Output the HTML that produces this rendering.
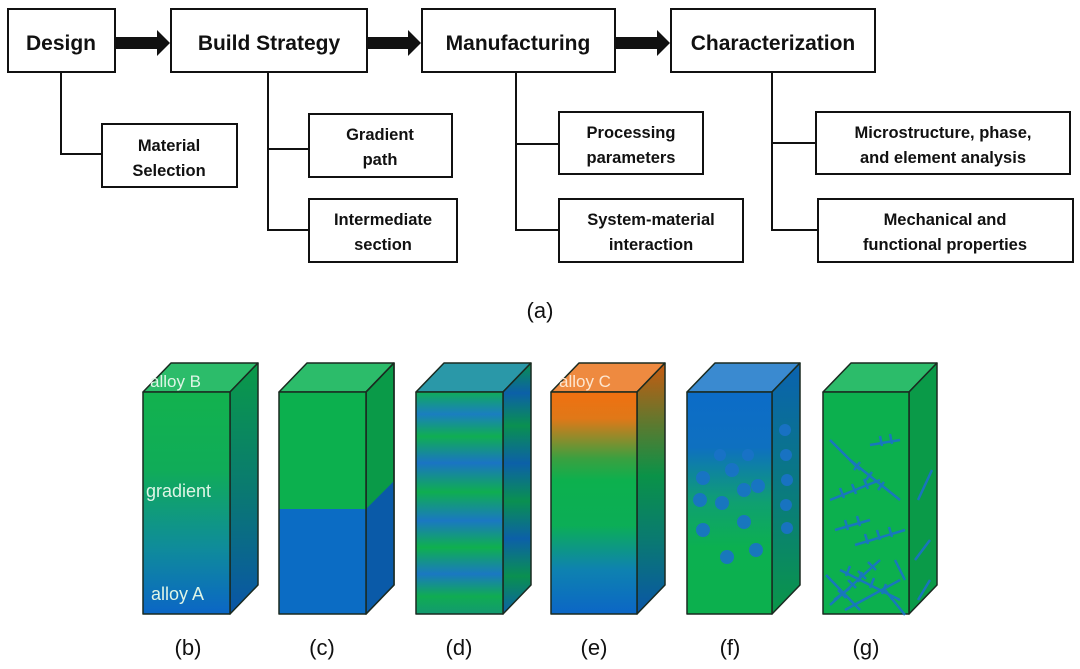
<!DOCTYPE html>
<html><head><meta charset="utf-8"><style>
body{margin:0;background:#fff;}
svg{display:block}
.b{font-family:"Liberation Sans",sans-serif;font-weight:bold;fill:#111;text-anchor:middle}
.l{font-family:"Liberation Sans",sans-serif;fill:#111;text-anchor:middle;font-size:22px}
.w{font-family:"Liberation Sans",sans-serif;fill:#dff5e6;font-size:17px}
</style></head><body>
<svg width="1080" height="669" viewBox="0 0 1080 669" xmlns="http://www.w3.org/2000/svg">
<defs>
<linearGradient id="gb" x1="0" y1="0" x2="0" y2="1"><stop offset="0" stop-color="#12b24e"/><stop offset="0.35" stop-color="#10ac58"/><stop offset="0.7" stop-color="#0f8c9a"/><stop offset="1" stop-color="#0b66c6"/></linearGradient>
<linearGradient id="gbs" x1="0" y1="0" x2="0" y2="1"><stop offset="0" stop-color="#0a9a48"/><stop offset="0.5" stop-color="#0a7a70"/><stop offset="1" stop-color="#0a55a8"/></linearGradient>
<linearGradient id="gd" x1="0" y1="0" x2="0" y2="1">
<stop offset="0" stop-color="#10ac5a"/><stop offset="0.1" stop-color="#1a7ec0"/><stop offset="0.2" stop-color="#10ae52"/><stop offset="0.32" stop-color="#1a74c4"/><stop offset="0.45" stop-color="#0fae50"/><stop offset="0.58" stop-color="#1a78c2"/><stop offset="0.7" stop-color="#0fb04e"/><stop offset="0.82" stop-color="#1a78c2"/><stop offset="0.92" stop-color="#10ac52"/><stop offset="1" stop-color="#129a70"/></linearGradient>
<linearGradient id="gds" x1="0" y1="0" x2="0" y2="1">
<stop offset="0" stop-color="#0a9050"/><stop offset="0.12" stop-color="#0c60a8"/><stop offset="0.25" stop-color="#0a9050"/><stop offset="0.4" stop-color="#0c60a8"/><stop offset="0.55" stop-color="#0a9050"/><stop offset="0.7" stop-color="#0c60a8"/><stop offset="0.85" stop-color="#0a9050"/><stop offset="1" stop-color="#0c60a8"/></linearGradient>
<linearGradient id="ge" x1="0" y1="0" x2="0" y2="1"><stop offset="0" stop-color="#f07010"/><stop offset="0.12" stop-color="#e07818"/><stop offset="0.3" stop-color="#3aa040"/><stop offset="0.4" stop-color="#0cb04e"/><stop offset="0.6" stop-color="#0cae56"/><stop offset="0.8" stop-color="#0e82b0"/><stop offset="1" stop-color="#0b66c6"/></linearGradient>
<linearGradient id="ges" x1="0" y1="0" x2="0" y2="1"><stop offset="0" stop-color="#c85a10"/><stop offset="0.25" stop-color="#5a7a30"/><stop offset="0.45" stop-color="#0a9248"/><stop offset="0.7" stop-color="#0a7a70"/><stop offset="1" stop-color="#0a55a8"/></linearGradient>
<linearGradient id="gf" x1="0" y1="0" x2="0" y2="1"><stop offset="0" stop-color="#0c6cc8"/><stop offset="0.25" stop-color="#0e70c0"/><stop offset="0.5" stop-color="#0fa070"/><stop offset="0.7" stop-color="#0cb050"/><stop offset="1" stop-color="#0cb04e"/></linearGradient>
<linearGradient id="gfs" x1="0" y1="0" x2="0" y2="1"><stop offset="0" stop-color="#0a62b0"/><stop offset="0.5" stop-color="#0a7a80"/><stop offset="1" stop-color="#0a9648"/></linearGradient>
</defs>
<g stroke="#111" stroke-width="2" fill="#fff">
<rect x="8" y="9" width="107" height="63"/>
<rect x="171" y="9" width="196" height="63"/>
<rect x="422" y="9" width="193" height="63"/>
<rect x="671" y="9" width="204" height="63"/>
<rect x="102" y="124" width="135" height="63"/>
<rect x="309" y="114" width="143" height="63"/>
<rect x="309" y="199" width="148" height="63"/>
<rect x="559" y="112" width="144" height="62"/>
<rect x="559" y="199" width="184" height="63"/>
<rect x="816" y="112" width="254" height="62"/>
<rect x="818" y="199" width="255" height="63"/>
<polyline fill="none" points="61,72 61,154 102,154"/>
<polyline fill="none" points="268,72 268,230 309,230"/>
<line x1="268" y1="149" x2="309" y2="149"/>
<polyline fill="none" points="516,72 516,230 559,230"/>
<line x1="516" y1="144" x2="559" y2="144"/>
<polyline fill="none" points="772,72 772,230 818,230"/>
<line x1="772" y1="143" x2="816" y2="143"/>
</g>
<g fill="#111">
<polygon points="115,37 157,37 157,30 170,43 157,56 157,49 115,49"/>
<polygon points="367,37 408,37 408,30 421,43 408,56 408,49 367,49"/>
<polygon points="615,37 657,37 657,30 670,43 657,56 657,49 615,49"/>
</g>
<g class="b" font-size="21">
<text x="61" y="50">Design</text>
<text x="269" y="50">Build Strategy</text>
<text x="518" y="50">Manufacturing</text>
<text x="773" y="50">Characterization</text>
</g>
<g class="b" font-size="16.5">
<text x="169" y="151">Material</text><text x="169" y="176">Selection</text>
<text x="380" y="140">Gradient</text><text x="380" y="165">path</text>
<text x="383" y="225">Intermediate</text><text x="383" y="250">section</text>
<text x="631" y="138">Processing</text><text x="631" y="163">parameters</text>
<text x="651" y="225">System-material</text><text x="651" y="250">interaction</text>
<text x="943" y="138">Microstructure, phase,</text><text x="943" y="163">and element analysis</text>
<text x="945" y="225">Mechanical and</text><text x="945" y="250">functional properties</text>
</g>
<text class="l" x="540" y="318">(a)</text>
<g stroke="#1a2a20" stroke-width="1.5" stroke-linejoin="round">
<polygon points="143,392 171,363 258,363 230,392" fill="#2cbc6a"/>
<polygon points="230,392 258,363 258,585 230,614" fill="url(#gbs)"/>
<rect x="143" y="392" width="87" height="222" fill="url(#gb)"/>
<polygon points="279,392 307,363 394,363 366,392" fill="#2cbc6a"/>
<polygon points="366,392 394,363 394,585 366,614" fill="#0a9a48"/>
<polygon points="366,509 394,481 394,585 366,614" fill="#0a5aa8" stroke="none"/>
<polygon points="366,392 394,363 394,585 366,614" fill="none"/>
<rect x="279" y="392" width="87" height="117" fill="#0cb04e" stroke="none"/>
<rect x="279" y="509" width="87" height="105" fill="#0b6cc4" stroke="none"/>
<rect x="279" y="392" width="87" height="222" fill="none"/>
<polygon points="416,392 444,363 531,363 503,392" fill="#2a98a8"/>
<polygon points="503,392 531,363 531,585 503,614" fill="url(#gds)"/>
<rect x="416" y="392" width="87" height="222" fill="url(#gd)"/>
<polygon points="551,392 579,363 665,363 637,392" fill="#ee8a40"/>
<polygon points="637,392 665,363 665,585 637,614" fill="url(#ges)"/>
<rect x="551" y="392" width="86" height="222" fill="url(#ge)"/>
<polygon points="687,392 715,363 800,363 772,392" fill="#3a8ad0"/>
<polygon points="772,392 800,363 800,585 772,614" fill="url(#gfs)"/>
<rect x="687" y="392" width="85" height="222" fill="url(#gf)"/>
<polygon points="823,392 851,363 937,363 909,392" fill="#2cbc6a"/>
<polygon points="909,392 937,363 937,585 909,614" fill="#0a9a48"/>
<rect x="823" y="392" width="86" height="222" fill="#0cb04e"/>
</g>
<g fill="#1a72c8" opacity="0.9">
<circle cx="700" cy="500" r="7"/><circle cx="722" cy="503" r="7"/><circle cx="744" cy="490" r="7"/><circle cx="703" cy="530" r="7"/><circle cx="744" cy="522" r="7"/><circle cx="727" cy="557" r="7"/><circle cx="756" cy="550" r="7"/><circle cx="703" cy="478" r="7"/><circle cx="732" cy="470" r="7"/><circle cx="758" cy="486" r="7"/><circle cx="720" cy="455" r="6"/><circle cx="748" cy="455" r="6"/>
<circle cx="785" cy="430" r="6"/><circle cx="786" cy="455" r="6"/><circle cx="787" cy="480" r="6"/><circle cx="786" cy="505" r="6"/><circle cx="787" cy="528" r="6"/>
</g>
<g stroke="#1a72c8" stroke-width="2.5" fill="none" opacity="0.9">
<path d="M830 605 L880 560 M838 590 l8 8 M848 580 l8 8 M858 571 l8 8 M868 562 l8 8"/>
<path d="M840 570 L900 600 M850 566 l-4 10 M862 572 l-4 10 M874 578 l-4 10 M886 584 l-4 10"/>
<path d="M855 545 L905 530 M865 534 l3 10 M877 530 l3 10 M889 527 l3 10"/>
<path d="M830 500 L880 480 M840 488 l4 10 M852 484 l4 10 M864 479 l4 10"/>
<path d="M850 460 L900 500 M860 462 l-6 8 M872 472 l-6 8 M884 482 l-6 8"/>
<path d="M830 440 L860 470 M870 445 L900 440 M880 436 l2 10 M890 434 l2 10"/>
<path d="M835 530 L870 520 M845 520 l3 10 M857 516 l3 10"/>
<path d="M826 575 L860 610 M834 600 L850 588 M845 610 L900 580"/>
<path d="M885 590 L905 615 M895 560 L905 580"/>
<path d="M918 500 L932 470 M915 560 L930 540 M918 600 L930 580"/>
</g>
<g class="w">
<text x="150" y="387">alloy B</text>
<text x="146" y="497" font-size="18">gradient</text>
<text x="151" y="600" font-size="18">alloy A</text>
<text x="559" y="387" fill="#fde6d0">alloy C</text>
</g>
<g class="l">
<text x="188" y="655">(b)</text><text x="322" y="655">(c)</text><text x="459" y="655">(d)</text>
<text x="594" y="655">(e)</text><text x="730" y="655">(f)</text><text x="866" y="655">(g)</text>
</g>
</svg>
</body></html>
